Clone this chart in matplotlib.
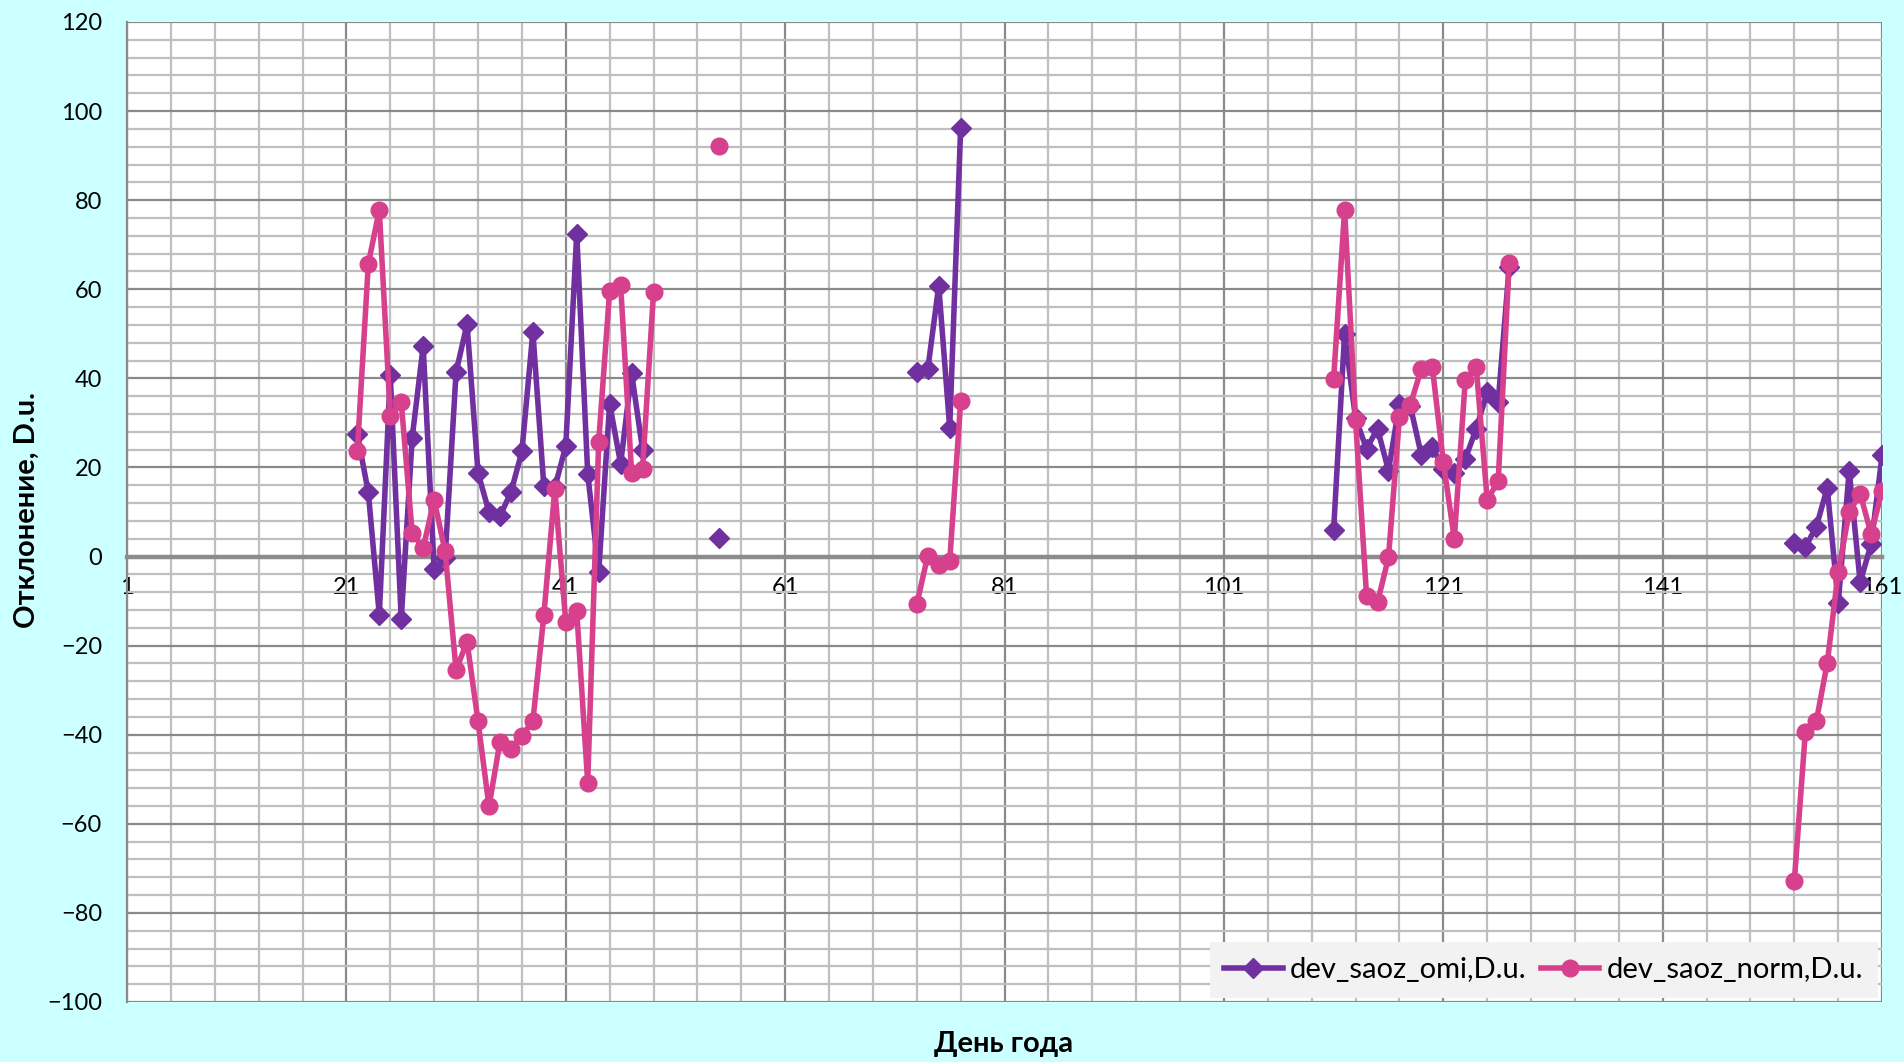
import numpy as np
import pandas as pd
import matplotlib
matplotlib.use("Agg")
import matplotlib.pyplot as plt
from matplotlib.ticker import MultipleLocator, FixedLocator

plt.rcParams['font.family'] = ['Lato', 'DejaVu Sans']

# days of year with data, and deviations (D.u.)
omi_days = list(range(22, 49)) + [55] + list(range(73, 78)) + list(range(111, 128)) + list(range(153, 162))
omi_vals = [27.4, 14.4, -13.1, 40.7, -14.1, 26.7, 47.2, -2.9, -0.3, 41.4,
            52.2, 18.8, 10.0, 9.1, 14.4, 23.6, 50.4, 15.8, 15.5, 24.8,
            72.5, 18.6, -3.5, 34.3, 20.8, 41.2, 24.0,
            4.1,
            41.4, 42.0, 60.8, 28.9, 96.3,
            6.0, 50.0, 31.0, 24.2, 28.7, 19.3, 34.3, 33.7, 22.7, 24.6,
            19.7, 18.7, 21.9, 28.7, 36.9, 34.7, 65.0,
            3.0, 2.1, 6.7, 15.4, -10.5, 19.3, -5.8, 2.8, 22.7]

norm_days = list(range(22, 50)) + [55] + list(range(73, 78)) + list(range(111, 128)) + list(range(153, 162))
norm_vals = [23.8, 65.7, 77.8, 31.6, 34.7, 5.2, 1.9, 12.7, 1.2, -25.5,
             -19.1, -37.0, -56.1, -41.6, -43.1, -40.2, -37.0, -13.2, 15.1, -14.7,
             -12.3, -50.8, 25.7, 59.7, 61.0, 18.8, 19.7, 59.3,
             92.2,
             -10.7, 0.2, -1.9, -1.1, 34.9,
             39.9, 77.9, 30.7, -8.8, -10.3, -0.2, 31.3, 34.1, 42.2, 42.5,
             21.2, 4.0, 39.6, 42.5, 12.7, 16.9, 65.8,
             -72.8, -39.5, -37.0, -23.9, -3.5, 10.0, 14.1, 5.1, 14.8]

all_days = np.arange(1, 162)
omi = pd.Series(omi_vals, index=omi_days).reindex(all_days)
norm = pd.Series(norm_vals, index=norm_days).reindex(all_days)

fig = plt.figure(figsize=(19.04, 10.62), dpi=100, facecolor='#CCFFFF')
ax = fig.add_axes([0.0667, 0.0565, 0.9218, 0.9228])
ax.set_facecolor('white')

ax.plot(all_days, omi.values, color='#7030A0', lw=4, marker='D', ms=10,
        label='dev_saoz_omi,D.u.', zorder=4)
ax.plot(all_days, norm.values, color='#D6408C', lw=4, marker='o', ms=12,
        label='dev_saoz_norm,D.u.', zorder=5)

ax.set_xlim(1, 161)
ax.set_ylim(-100, 120)
ax.xaxis.set_major_locator(FixedLocator(list(range(1, 162, 20))))
ax.xaxis.set_minor_locator(FixedLocator(list(range(1, 162, 4))))
ax.yaxis.set_major_locator(MultipleLocator(20))
ax.yaxis.set_minor_locator(MultipleLocator(4))

ax.grid(which='minor', color='#BFBFBF', lw=1.6, zorder=0)
ax.grid(which='major', color='#8A8A8A', lw=1.6, zorder=0)
ax.set_axisbelow(True)

for s in ['top', 'right']:
    ax.spines[s].set_visible(False)
ax.spines['left'].set_color('#8A8A8A')
ax.spines['left'].set_linewidth(1.6)
ax.spines['bottom'].set_position(('data', 0))
ax.spines['bottom'].set_color('#8C8C8C')
ax.spines['bottom'].set_linewidth(3.2)
ax.spines['bottom'].set_zorder(3)

ax.tick_params(axis='both', which='both', length=0, labelsize=17)
ax.tick_params(axis='x', pad=15)
ax.tick_params(axis='y', pad=18)

fig.text(0.0142, 0.52, 'Отклонение, D.u.', rotation=90, ha='center', va='center',
         fontsize=21, fontweight='bold')
fig.text(0.527, 0.017, 'День года', ha='center', va='center',
         fontsize=21, fontweight='bold')

leg = ax.legend(loc='lower right', ncol=2, fontsize=21, frameon=True,
                facecolor='#F2F2F2', edgecolor='none', framealpha=1,
                borderaxespad=0.15, handlelength=2.0, columnspacing=0.5,
                handletextpad=0.25, fancybox=False, borderpad=0.5)
leg.set_zorder(10)

fig.savefig('out.png', dpi=100, facecolor=fig.get_facecolor())
